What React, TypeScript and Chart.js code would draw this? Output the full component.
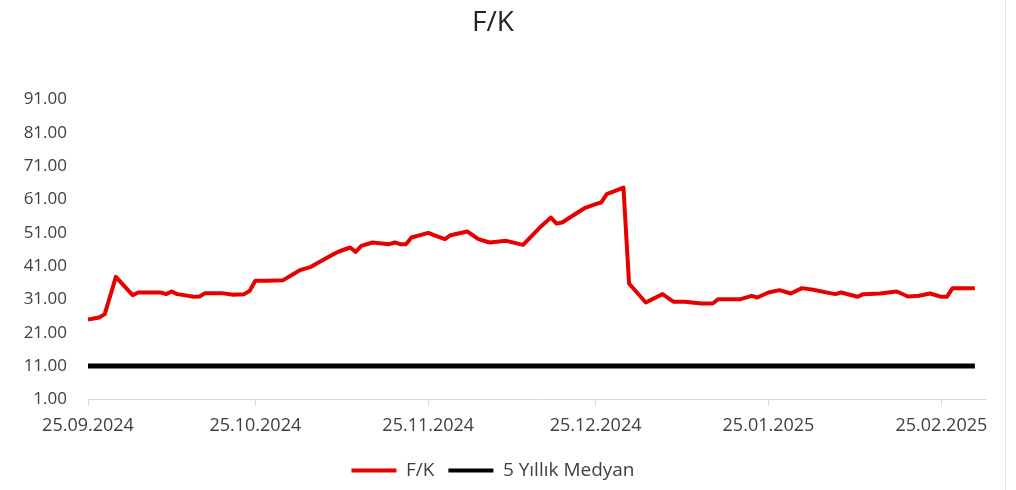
import React, { useEffect, useRef } from "react";
import { Chart, registerables } from "chart.js";

Chart.register(...registerables);

// Day offsets from 25.09.2024 for each observation
const dayOffsets = [
  0, 2, 3, 5, 8, 9, 13, 14, 15, 16, 19, 20, 21, 24, 26, 28, 29, 30, 32, 35,
  37, 38, 40, 41, 44, 45, 47, 48, 49, 51, 54, 55, 56, 57, 58, 61, 62, 64, 65,
  68, 70, 72, 75, 78, 81, 83, 84, 85, 89, 91, 92, 93, 96, 97, 100, 103, 105,
  107, 110, 112, 113, 117, 119, 120, 122, 124, 126, 128, 130, 133, 134, 135,
  138, 139, 142, 145, 147, 149, 151, 153, 154, 155, 159,
];

// F/K values
const fkValues = [
  25.0, 25.6, 26.6, 37.8, 32.3, 33.1, 33.1, 32.6, 33.4, 32.6, 31.8, 31.9, 32.9,
  32.9, 32.4, 32.6, 33.6, 36.6, 36.6, 36.8, 38.8, 39.8, 40.8, 41.8, 44.6, 45.4,
  46.6, 45.3, 47.1, 48.1, 47.6, 48.1, 47.6, 47.6, 49.6, 51.0, 50.3, 49.1, 50.3,
  51.4, 49.1, 48.1, 48.6, 47.4, 52.6, 55.6, 53.8, 54.1, 58.4, 59.6, 60.1, 62.6,
  64.6, 35.8, 30.1, 32.6, 30.3, 30.3, 29.8, 29.8, 31.1, 31.1, 32.1, 31.6, 33.1,
  33.8, 32.8, 34.4, 33.9, 32.9, 32.6, 33.1, 31.8, 32.6, 32.8, 33.4, 31.9, 32.1,
  32.8, 31.8, 31.8, 34.4, 34.4,
];

const medianValue = 11;

const xTickDays = [0, 30, 61, 91, 122, 153];
const xTickLabels = [
  "25.09.2024",
  "25.10.2024",
  "25.11.2024",
  "25.12.2024",
  "25.01.2025",
  "25.02.2025",
];

const seriesNames = ["F/K", "5 Yıllık Medyan"];

export default function App() {
  const ref = useRef<HTMLCanvasElement | null>(null);

  useEffect(() => {
    if (!ref.current) return;
    const fkData = dayOffsets.map((d, i) => ({ x: d, y: fkValues[i] }));
    const medData = dayOffsets.map((d) => ({ x: d, y: medianValue }));
    const chart = new Chart(ref.current, {
      type: "line",
      data: {
        datasets: [
          {
            label: seriesNames[0],
            data: fkData,
            borderColor: "#e60000",
            backgroundColor: "#e60000",
            borderWidth: 4,
            pointRadius: 0,
            tension: 0,
            borderJoinStyle: "round",
          },
          {
            label: seriesNames[1],
            data: medData,
            borderColor: "#000000",
            backgroundColor: "#000000",
            borderWidth: 5,
            pointRadius: 0,
          },
        ],
      },
      options: {
        animation: false,
        responsive: true,
        maintainAspectRatio: false,
        layout: { padding: { left: 0, right: 30, top: 0, bottom: 0 } },
        plugins: {
          title: {
            display: true,
            text: "F/K",
            color: "#222222",
            font: { family: "Open Sans", size: 28, weight: "normal" },
            padding: { top: 6, bottom: 60 },
          },
          legend: {
            position: "bottom",
            labels: {
              boxWidth: 45,
              boxHeight: 4,
              padding: 14,
              color: "#404040",
              font: { family: "Open Sans", size: 19 },
              generateLabels: (c: any) =>
                Chart.defaults.plugins.legend.labels
                  .generateLabels(c)
                  .map((l: any) => ({ ...l, lineWidth: 0, fillStyle: l.strokeStyle })),
            },
          },
          tooltip: { enabled: false },
        },
        scales: {
          x: {
            type: "linear",
            min: 0,
            max: 161,
            afterBuildTicks: (s: any) => {
              s.ticks = xTickDays.map((v) => ({ value: v }));
            },
            ticks: {
              callback: (v: any) => {
                const i = xTickDays.indexOf(Number(v));
                return i >= 0 ? xTickLabels[i] : "";
              },
              color: "#404040",
              font: { family: "Open Sans", size: 18 },
              padding: 10,
              maxRotation: 0,
              autoSkip: false,
            },
            grid: {
              display: true,
              drawOnChartArea: false,
              drawTicks: true,
              tickLength: 6,
              color: "#d9d9d9",
            },
            border: { display: true, color: "#d9d9d9", width: 1 },
          },
          y: {
            min: 1,
            max: 91,
            afterFit: (s: any) => {
              s.width = 88;
            },
            ticks: {
              stepSize: 10,
              callback: (v: any) => Number(v).toFixed(2),
              color: "#404040",
              font: { family: "Open Sans", size: 17 },
              padding: 21,
            },
            grid: { display: false, drawTicks: false },
            border: { display: false },
          },
        },
      },
    });
    return () => chart.destroy();
  }, []);

  return (
    <div style={{ position: "fixed", left: 0, top: 0, width: 1016, height: 490, background: "#ffffff" }}>
      <canvas ref={ref} />
      <div
        style={{
          position: "absolute",
          left: 1005,
          top: 0,
          width: 1,
          height: 490,
          background: "#e4e4e4",
        }}
      />
    </div>
  );
}
